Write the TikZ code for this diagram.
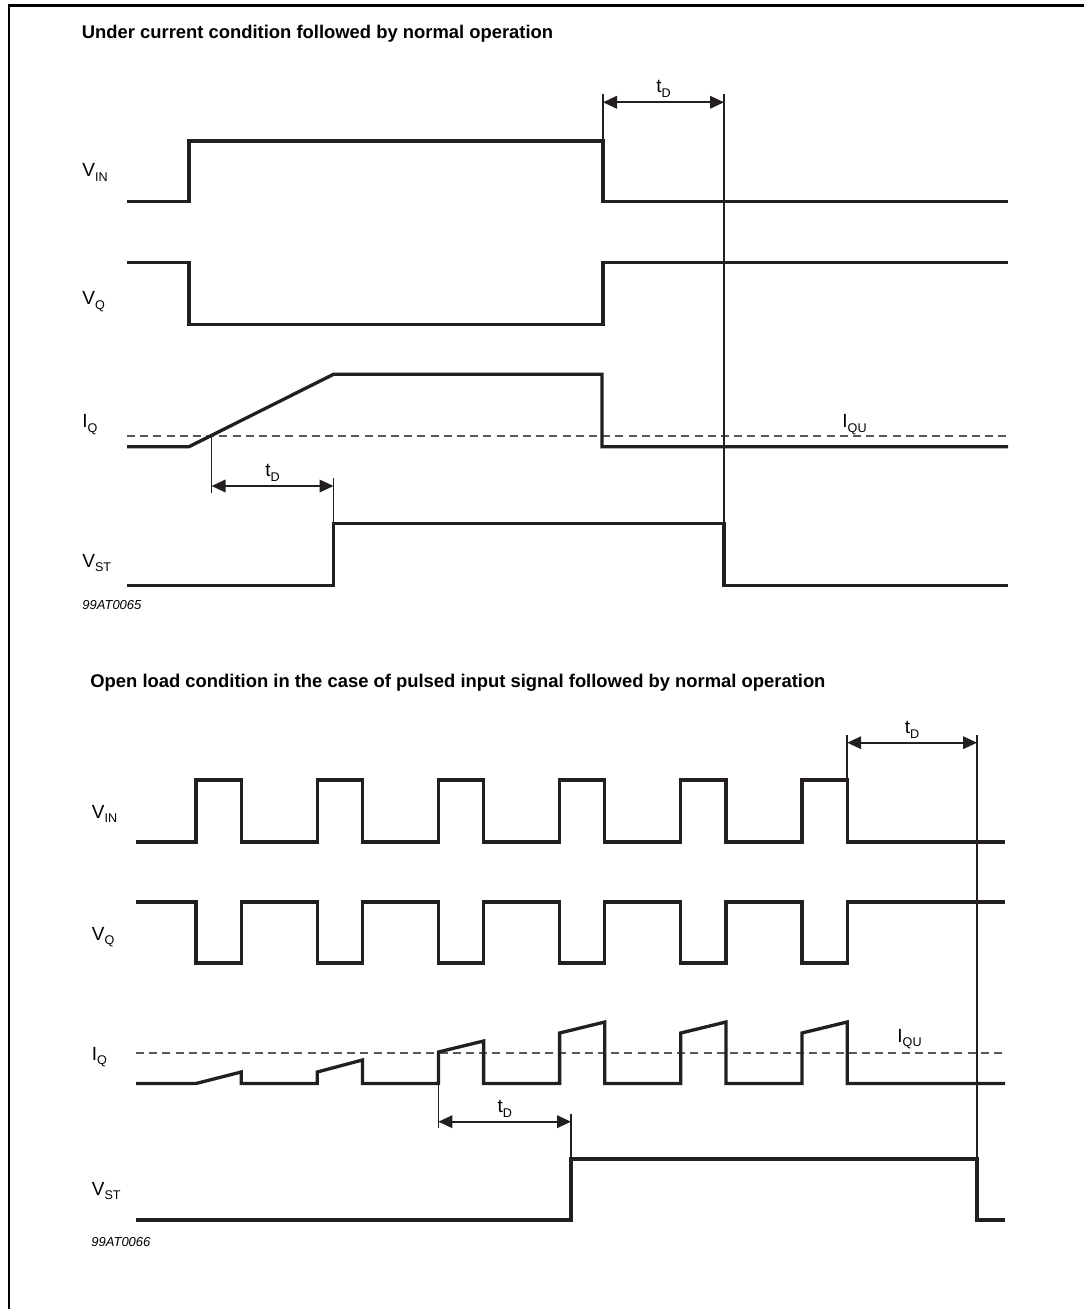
\documentclass[tikz,border=0pt]{standalone}
\usepackage{fontspec}
\setmainfont{Liberation Sans}
\usepackage{tikz}
\usetikzlibrary{arrows.meta}
\definecolor{tdink}{HTML}{231F20}
\definecolor{tdgray}{HTML}{58595B}
\newcommand{\sublbl}[2]{#1\raisebox{-2.4pt}{\fontsize{6.3}{7}\selectfont #2}}

\begin{document}
\begin{tikzpicture}[x=0.5pt, y=-0.5pt,
  sig/.style={draw=tdink, line width=1.65pt},
  guide/.style={draw=tdink, line width=0.85pt},
  span/.style={guide, {Triangle[length=7pt,width=6.3pt]}-{Triangle[length=7pt,width=6.3pt]}},
  threshold/.style={draw=tdgray, line width=0.7pt, dash pattern=on 4pt off 2.6pt},
  frameline/.style={draw=black, line width=1.3pt},
  heading/.style={font=\fontsize{9.2}{11}\selectfont\bfseries, anchor=base west, inner sep=0pt},
  signame/.style={font=\fontsize{9.5}{11}\selectfont, anchor=base west, inner sep=0pt},
  figcode/.style={font=\fontsize{6.5}{8}\selectfont\itshape, anchor=base west, inner sep=0pt},
  delay/.style={font=\fontsize{9.5}{11}\selectfont, anchor=base, inner sep=0pt, yshift=4.75pt},
]
  \useasboundingbox (0,0) rectangle (1084,1309);
  \draw[frameline] (9,1309) -- (9,5.5) -- (1084,5.5);

  % under current condition
  \node[heading] (head1) at (81.5,39) {Under current condition followed by normal operation};
  \node[signame] (vin1) at (82,177) {\sublbl{V}{IN}};
  \node[signame] (vq1) at (82,305) {\sublbl{V}{Q}};
  \node[signame] (iq1) at (82,428) {\sublbl{I}{Q}};
  \node[signame] (vst1) at (82,567) {\sublbl{V}{ST}};
  \node[signame] (iqu1) at (842,428) {\sublbl{I}{QU}};
  \node[figcode] (code1) at (82,609.5) {99AT0065};

  \draw[sig] (127,201.7) -- (189,201.7) -- (189,141) -- (603,141) -- (603,201.7) -- (1008,201.7);
  \draw[sig] (127,262.7) -- (189,262.7) -- (189,324.3) -- (603,324.3) -- (603,262.7) -- (1008,262.7);
  \draw[threshold] (127,436) -- (1008,436);
  \draw[sig] (127,446.7) -- (189,446.7) -- (333.5,374.3) -- (602,374.3) -- (602,446.7) -- (1008,446.7);
  \draw[sig] (127,585.7) -- (333.5,585.7) -- (333.5,523.3) -- (724,523.3) -- (724,585.7) -- (1008,585.7);

  \coordinate (off1) at (603,94.3);
  \coordinate (st1) at (724,94.3);
  \coordinate (cross1) at (211.6,436);
  \coordinate (on1) at (333.5,478.3);
  \draw[guide] (off1) -- (603,141);
  \draw[guide] (st1) -- (724,523.3);
  \draw[guide] (cross1) -- (211.6,493.3);
  \draw[guide] (on1) -- (333.5,523.3);
  \draw[span] (603,102.3) -- node[delay] (td1) {\sublbl{t}{D}} (724,102.3);
  \draw[span] (211.6,486) -- node[delay] (td2) {\sublbl{t}{D}} (333.5,486);

  % open load, pulsed input
  \node[heading] (head2) at (90,687) {Open load condition in the case of pulsed input signal followed by normal operation};
  \node[signame] (vin2) at (91.5,818) {\sublbl{V}{IN}};
  \node[signame] (vq2) at (91.5,940) {\sublbl{V}{Q}};
  \node[signame] (iq2) at (91.5,1060) {\sublbl{I}{Q}};
  \node[signame] (vst2) at (91.5,1195) {\sublbl{V}{ST}};
  \node[signame] (iqu2) at (897,1042) {\sublbl{I}{QU}};
  \node[figcode] (code2) at (91,1246.7) {99AT0066};

  \draw[sig] (136,842) \foreach \k in {0,...,5} {
      -- ({196+121.2*\k},842) -- ++(0,-62) -- ++(45.2,0) -- ++(0,62)} -- (1005,842);
  \draw[sig] (136,902) \foreach \k in {0,...,5} {
      -- ({196+121.2*\k},902) -- ++(0,61) -- ++(45.2,0) -- ++(0,-61)} -- (1005,902);
  \draw[threshold] (136,1053) -- (1005,1053);
  \draw[sig] (136,1083.5) \foreach \k/\a/\b in {0/1083.5/1072, 1/1072/1060, 2/1052/1041,
      3/1033/1022, 4/1033/1022, 5/1033/1022} {
      -- ({196+121.2*\k},1083.5) -- ({196+121.2*\k},\a) -- ({241.2+121.2*\k},\b)
      -- ({241.2+121.2*\k},1083.5)} -- (1005,1083.5);
  \draw[sig] (136,1220) -- (571,1220) -- (571,1159) -- (977,1159) -- (977,1220) -- (1005,1220);

  \coordinate (off2) at (847.2,735);
  \coordinate (st2) at (977,735);
  \coordinate (cross2) at (438.4,1083.5);
  \coordinate (on2) at (571,1114);
  \draw[guide] (off2) -- (847.2,780);
  \draw[guide] (st2) -- (977,1159);
  \draw[guide] (cross2) -- (438.4,1128);
  \draw[guide] (on2) -- (571,1159);
  \draw[span] (847.2,742.7) -- node[delay] (td3) {\sublbl{t}{D}} (977,742.7);
  \draw[span] (438.4,1121.7) -- node[delay] (td4) {\sublbl{t}{D}} (571,1121.7);
\end{tikzpicture}
\end{document}
